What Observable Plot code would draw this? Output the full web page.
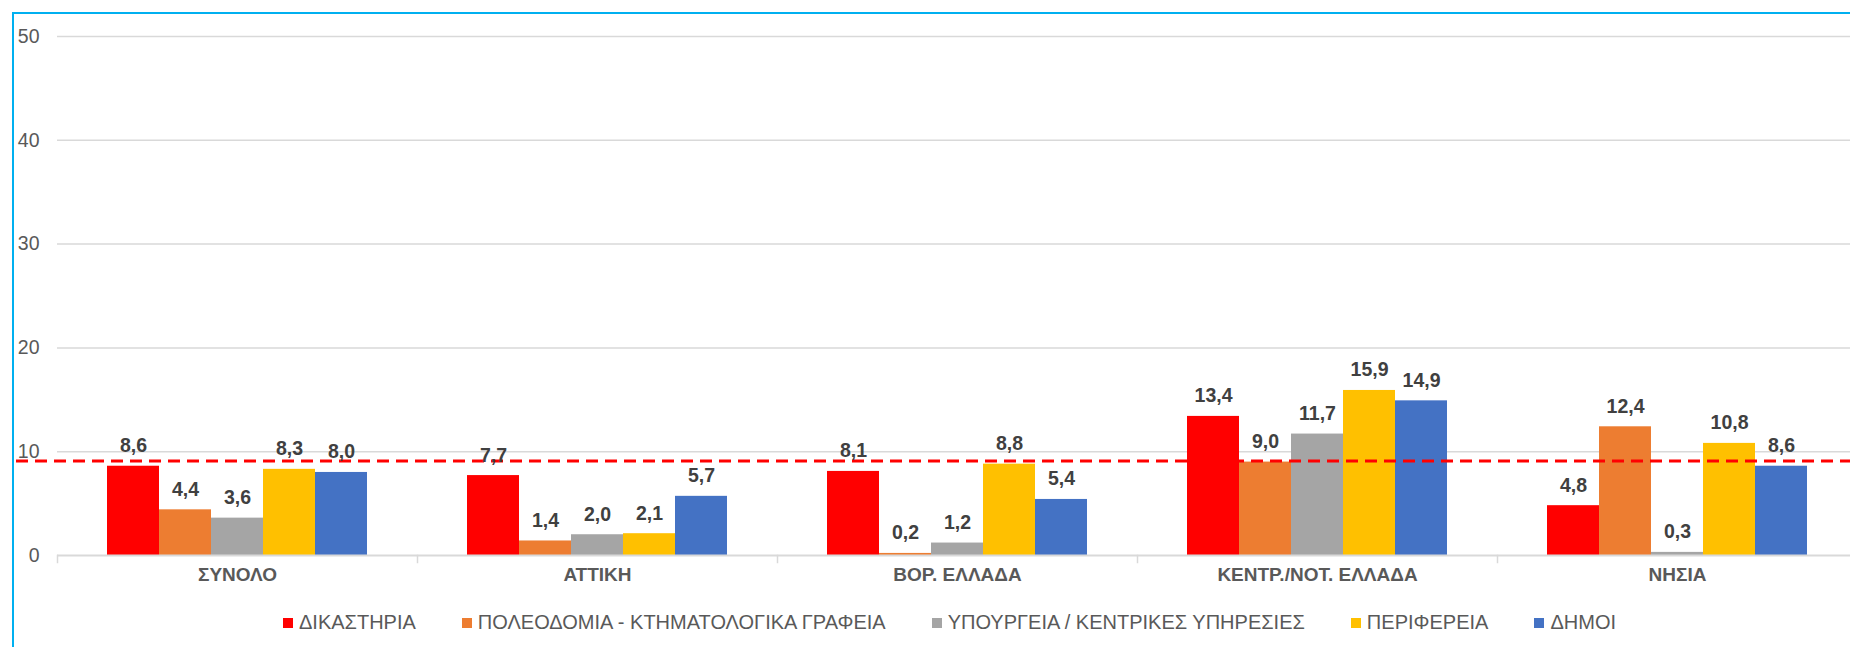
<!DOCTYPE html>
<html>
<head>
<meta charset="utf-8">
<script src="https://cdn.jsdelivr.net/npm/d3@7"></script>
<script src="https://cdn.jsdelivr.net/npm/@observablehq/plot@0.6"></script>
<style>
  html, body { margin: 0; padding: 0; background: #fff; overflow: hidden; width: 1850px; height: 647px; }
  #wrap { position: relative; width: 1850px; height: 647px; font-family: "Liberation Sans", Arial, sans-serif; }
  #chart { position: absolute; left: 0; top: 0; }
  #border { position: absolute; left: 12px; top: 12px; width: 1900px; height: 700px;
            border-left: 2px solid #00B0F0; border-top: 2px solid #00B0F0; pointer-events: none; }
  #legend { position: absolute; left: 283px; top: 611px; display: flex; align-items: center;
            font-size: 20px; color: #595959; white-space: nowrap; }
  .item { display: flex; align-items: center; margin-right: 46px; }
  .sw { width: 10px; height: 10px; margin-right: 6px; }
</style>
</head>
<body>
<div id="wrap">
  <div id="chart"></div>
  <div id="legend"></div>
  <div id="border"></div>
</div>
<script>
const categories = ["ΣΥΝΟΛΟ", "ΑΤΤΙΚΗ", "ΒΟΡ. ΕΛΛΑΔΑ", "ΚΕΝΤΡ./ΝΟΤ. ΕΛΛΑΔΑ", "ΝΗΣΙΑ"];
const series = ["ΔΙΚΑΣΤΗΡΙΑ", "ΠΟΛΕΟΔΟΜΙΑ - ΚΤΗΜΑΤΟΛΟΓΙΚΑ ΓΡΑΦΕΙΑ", "ΥΠΟΥΡΓΕΙΑ / ΚΕΝΤΡΙΚΕΣ ΥΠΗΡΕΣΙΕΣ", "ΠΕΡΙΦΕΡΕΙΑ", "ΔΗΜΟΙ"];
const colors = ["#FF0000", "#ED7D31", "#A5A5A5", "#FFC000", "#4472C4"];
const dikastiria  = [8.6, 7.7, 8.1, 13.4, 4.8];
const poleodomia  = [4.4, 1.4, 0.2, 9.0, 12.4];
const ypourgeia   = [3.6, 2.0, 1.2, 11.7, 0.3];
const perifereia  = [8.3, 2.1, 8.8, 15.9, 10.8];
const dimoi       = [8.0, 5.7, 5.4, 14.9, 8.6];
const referenceLine = 9.1;
const yTicks = [0, 10, 20, 30, 40, 50];

const seriesValues = [dikastiria, poleodomia, ypourgeia, perifereia, dimoi];
const data = [];
categories.forEach((c, i) => {
  series.forEach((s, j) => data.push({cat: c, series: s, value: seriesValues[j][i]}));
});
const fmt = v => v.toFixed(1).replace(".", ",");

const chart = Plot.plot({
  width: 1850,
  height: 600,
  marginLeft: 55,
  marginRight: -8,
  marginTop: 36,
  marginBottom: 45,
  style: {fontFamily: '"Liberation Sans", Arial, sans-serif', background: "transparent", overflow: "visible"},
  fx: {domain: categories, padding: 0, axis: null},
  x: {domain: series, paddingInner: 0, paddingOuter: 0.9, axis: null},
  y: {domain: [0, 50], axis: null},
  color: {domain: series, range: colors},
  marks: [
    Plot.ruleY(yTicks.filter(d => d > 0), {stroke: "#d9d9d9", strokeWidth: 1.5}),
    Plot.barY(data, {fx: "cat", x: "series", y: "value", fill: "series"}),
    Plot.ruleY([0], {stroke: "#d9d9d9", strokeWidth: 2}),
    Plot.frame({anchor: "left", insetTop: 519, insetBottom: -7, stroke: "#d9d9d9", strokeWidth: 1.5}),
    Plot.ruleY([referenceLine], {fx: () => categories[0], stroke: "#FF0000", strokeWidth: 3,
      strokeDasharray: "12,7", insetLeft: -41, insetRight: -1500}),
    Plot.text(data, {fx: "cat", x: "series", y: "value", text: d => fmt(d.value),
      dy: -14, lineAnchor: "bottom", fontSize: 19.5, fontWeight: "bold", fill: "#404040"}),
    Plot.text(categories, {fx: d => d, frameAnchor: "bottom", dy: 25, text: d => d,
      fontSize: 19, fontWeight: "bold", fill: "#595959"}),
    Plot.text(yTicks, {fx: () => categories[0], y: d => d, frameAnchor: "left", dx: -18,
      textAnchor: "end", text: d => String(d), fontSize: 19.5, fill: "#595959"})
  ]
});
document.getElementById("chart").appendChild(chart);

const legend = document.getElementById("legend");
series.forEach((s, i) => {
  const item = document.createElement("div");
  item.className = "item";
  const sw = document.createElement("div");
  sw.className = "sw";
  sw.style.background = colors[i];
  const t = document.createElement("span");
  t.textContent = s;
  item.appendChild(sw);
  item.appendChild(t);
  legend.appendChild(item);
});
</script>
</body>
</html>
